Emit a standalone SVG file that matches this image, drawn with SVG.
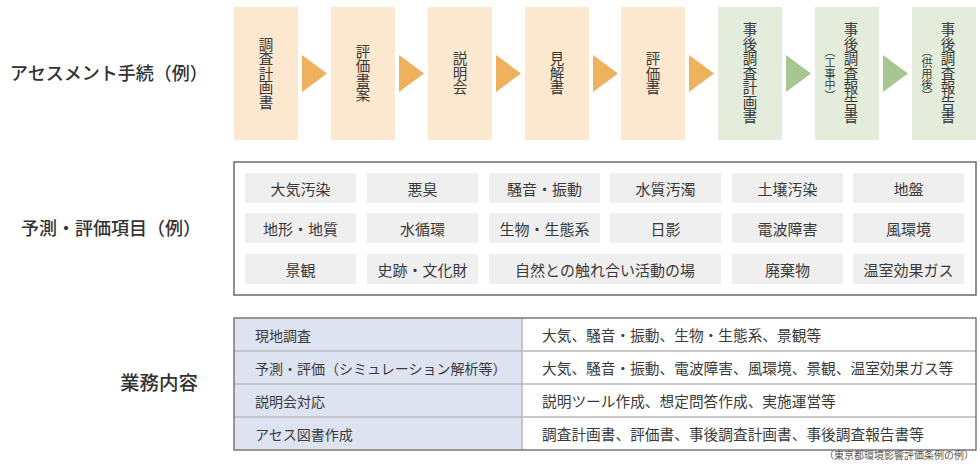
<svg xmlns="http://www.w3.org/2000/svg" width="980" height="470" viewBox="0 0 980 470">
<style>
text { font-family: "Noto Sans CJK JP", "Noto Sans", sans-serif; fill: #3a3a3a; }
.lbl { font-size: 18px; fill: #333; font-weight: 500; }
.or { fill: #FBE8CF; }
.gr { fill: #E4EDDB; }
.ao { fill: #F0B15E; }
.ag { fill: #A8C692; }
.vt { font-size: 14.5px; writing-mode: vertical-rl; text-anchor: middle; }
.vs { font-size: 11px; writing-mode: vertical-rl; text-anchor: middle; }
.cell { fill: #EFEFEF; }
.ct { font-size: 15px; text-anchor: middle; dominant-baseline: central; }
.tt { font-size: 14px; dominant-baseline: central; }
.tr { font-size: 14.7px; dominant-baseline: central; }
</style>
<rect width="980" height="470" fill="#fff"/>

<!-- section labels -->
<g id="labels">
<text class="lbl" x="10" y="80">アセスメント手続（例）</text>
<text class="lbl" x="21" y="235">予測・評価項目（例）</text>
<text class="lbl" x="120" y="390" style="font-size:19.5px">業務内容</text>
</g>

<!-- process nodes -->
<g id="n1"><rect class="or" x="234" y="7" width="64" height="133"/><text class="vt" x="266" y="73">調査計画書</text></g>
<g id="n2"><rect class="or" x="331" y="7" width="64" height="133"/><text class="vt" x="363" y="73">評価書案</text></g>
<g id="n3"><rect class="or" x="428" y="7" width="64" height="133"/><text class="vt" x="460" y="73">説明会</text></g>
<g id="n4"><rect class="or" x="525" y="7" width="64" height="133"/><text class="vt" x="557" y="73">見解書</text></g>
<g id="n5"><rect class="or" x="621" y="7" width="64" height="133"/><text class="vt" x="653" y="73">評価書</text></g>
<g id="n6"><rect class="gr" x="718" y="7" width="64" height="133"/><text class="vt" x="750" y="73">事後調査計画書</text></g>
<g id="n7"><rect class="gr" x="815" y="7" width="64" height="133"/><text class="vt" x="851" y="73">事後調査報告書</text><text class="vs" x="830" y="74">（工事中）</text></g>
<g id="n8"><rect class="gr" x="912" y="7" width="64" height="133"/><text class="vt" x="948" y="73">事後調査報告書</text><text class="vs" x="927" y="74">（供用後）</text></g>

<g id="connectors">
<polygon class="ao" points="302,55 327,73.5 302,92"/>
<polygon class="ao" points="399,55 424,73.5 399,92"/>
<polygon class="ao" points="496,55 521,73.5 496,92"/>
<polygon class="ao" points="593,55 618,73.5 593,92"/>
<polygon class="ao" points="689,55 714,73.5 689,92"/>
<polygon class="ag" points="786,55 811,73.5 786,92"/>
<polygon class="ag" points="883,55 908,73.5 883,92"/>
</g>

<!-- prediction items -->
<g id="items">
<rect x="234" y="162" width="742" height="133" fill="#fff" stroke="#6b6b6b" stroke-width="1.5"/>
<rect class="cell" x="245" y="173" width="111" height="30"/><text class="ct" x="300.5" y="188">大気汚染</text>
<rect class="cell" x="367" y="173" width="111" height="30"/><text class="ct" x="422.5" y="188">悪臭</text>
<rect class="cell" x="489" y="173" width="111" height="30"/><text class="ct" x="544.5" y="188">騒音・振動</text>
<rect class="cell" x="610" y="173" width="111" height="30"/><text class="ct" x="665.5" y="188">水質汚濁</text>
<rect class="cell" x="732" y="173" width="111" height="30"/><text class="ct" x="787.5" y="188">土壌汚染</text>
<rect class="cell" x="853" y="173" width="111" height="30"/><text class="ct" x="908.5" y="188">地盤</text>

<rect class="cell" x="245" y="213" width="111" height="30"/><text class="ct" x="300.5" y="228">地形・地質</text>
<rect class="cell" x="367" y="213" width="111" height="30"/><text class="ct" x="422.5" y="228">水循環</text>
<rect class="cell" x="489" y="213" width="111" height="30"/><text class="ct" x="544.5" y="228">生物・生態系</text>
<rect class="cell" x="610" y="213" width="111" height="30"/><text class="ct" x="665.5" y="228">日影</text>
<rect class="cell" x="732" y="213" width="111" height="30"/><text class="ct" x="787.5" y="228">電波障害</text>
<rect class="cell" x="853" y="213" width="111" height="30"/><text class="ct" x="908.5" y="228">風環境</text>

<rect class="cell" x="245" y="254" width="111" height="30"/><text class="ct" x="300.5" y="269">景観</text>
<rect class="cell" x="367" y="254" width="111" height="30"/><text class="ct" x="422.5" y="269">史跡・文化財</text>
<rect class="cell" x="489" y="254" width="232" height="30"/><text class="ct" x="605" y="269">自然との触れ合い活動の場</text>
<rect class="cell" x="732" y="254" width="111" height="30"/><text class="ct" x="787.5" y="269">廃棄物</text>
<rect class="cell" x="853" y="254" width="111" height="30"/><text class="ct" x="908.5" y="269">温室効果ガス</text>
</g>

<!-- work table -->
<g id="table">
<rect x="234" y="318" width="288" height="132" fill="#DDE3F1"/>
<g stroke="#b8b8b8" stroke-width="1.5">
<line x1="234" y1="351" x2="976" y2="351"/>
<line x1="234" y1="384" x2="976" y2="384"/>
<line x1="234" y1="417" x2="976" y2="417"/>
<line x1="522" y1="318" x2="522" y2="450"/>
</g>
<rect x="234" y="318" width="742" height="132" fill="none" stroke="#7a7a7a" stroke-width="1.5"/>
<text class="tt" x="255" y="334.5">現地調査</text>
<text class="tt" x="255" y="367.5">予測・評価（シミュレーション解析等）</text>
<text class="tt" x="255" y="400.5">説明会対応</text>
<text class="tt" x="255" y="433.5">アセス図書作成</text>
<text class="tr" x="542" y="334.5">大気、騒音・振動、生物・生態系、景観等</text>
<text class="tr" x="542" y="367.5">大気、騒音・振動、電波障害、風環境、景観、温室効果ガス等</text>
<text class="tr" x="542" y="400.5">説明ツール作成、想定問答作成、実施運営等</text>
<text class="tr" x="542" y="433.5">調査計画書、評価書、事後調査計画書、事後調査報告書等</text>
</g>

<text x="974" y="459" font-size="10" text-anchor="end" style="fill:#555">（東京都環境影響評価条例の例）</text>
</svg>
